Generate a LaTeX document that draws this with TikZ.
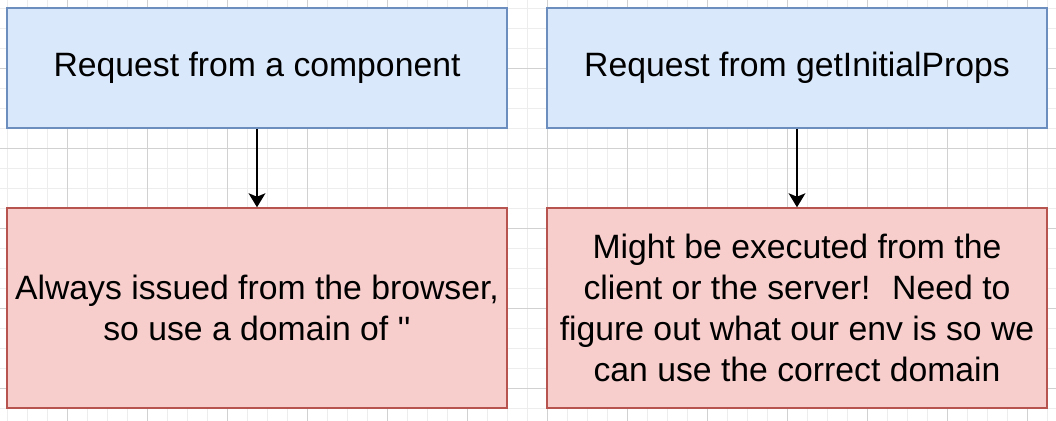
\documentclass[tikz,border=0pt]{standalone}
\usepackage{fontspec}
\setmainfont{Liberation Sans}
\usetikzlibrary{positioning, arrows.meta}
\definecolor{reqfill}{HTML}{DAE8FC}
\definecolor{reqline}{HTML}{6C8EBF}
\definecolor{notefill}{HTML}{F8CECC}
\definecolor{noteline}{HTML}{B85450}
\tikzset{
	bluebox/.style={draw=reqline, fill=reqfill, line width=1pt, minimum width=12.5cm, minimum height=3cm, inner sep=0pt, align=center},
	redbox/.style={draw=noteline, fill=notefill, line width=1pt, minimum width=12.5cm, minimum height=5cm, inner sep=0pt, align=center},
	gridminor/.style={draw=black!7, line width=0.5pt},
	gridmajor/.style={draw=black!18, line width=0.5pt},
	every edge/.style={draw,-{Stealth[length=10pt,width=12pt,inset=2.5pt]},line width=1pt}
}

\begin{document}
\begin{tikzpicture}[font=\fontsize{24}{29}\selectfont]
\useasboundingbox (0,0) rectangle (26.4,10.5);
\fill[white] (0,0) rectangle (26.4,10.5);
\begin{scope}
\clip (0,0) rectangle (26.4,10.5);
\draw[gridminor, step=0.5cm, shift={(0.175,0.3)}] (-1,-1) grid (27,11);
\draw[gridmajor, step=2cm, shift={(1.675,0.8)}] (-2,-2) grid (26,10);
\end{scope}

\node[bluebox] (component) at (6.425,8.8) {Request from a component};
\node[bluebox] (initprops) at (19.925,8.8) {Request from getInitialProps};

\node[redbox] (browser) at (6.425,2.8) {Always issued from the browser,\\so use a domain of \textquotesingle\textquotesingle};
\node[redbox] (either) at (19.925,2.8) {Might be executed from the\\client or the server!~ Need to\\figure out what our env is so we\\can use the correct domain};

\draw (component) edge (browser);
\draw (initprops) edge (either);
\end{tikzpicture}
\end{document}
